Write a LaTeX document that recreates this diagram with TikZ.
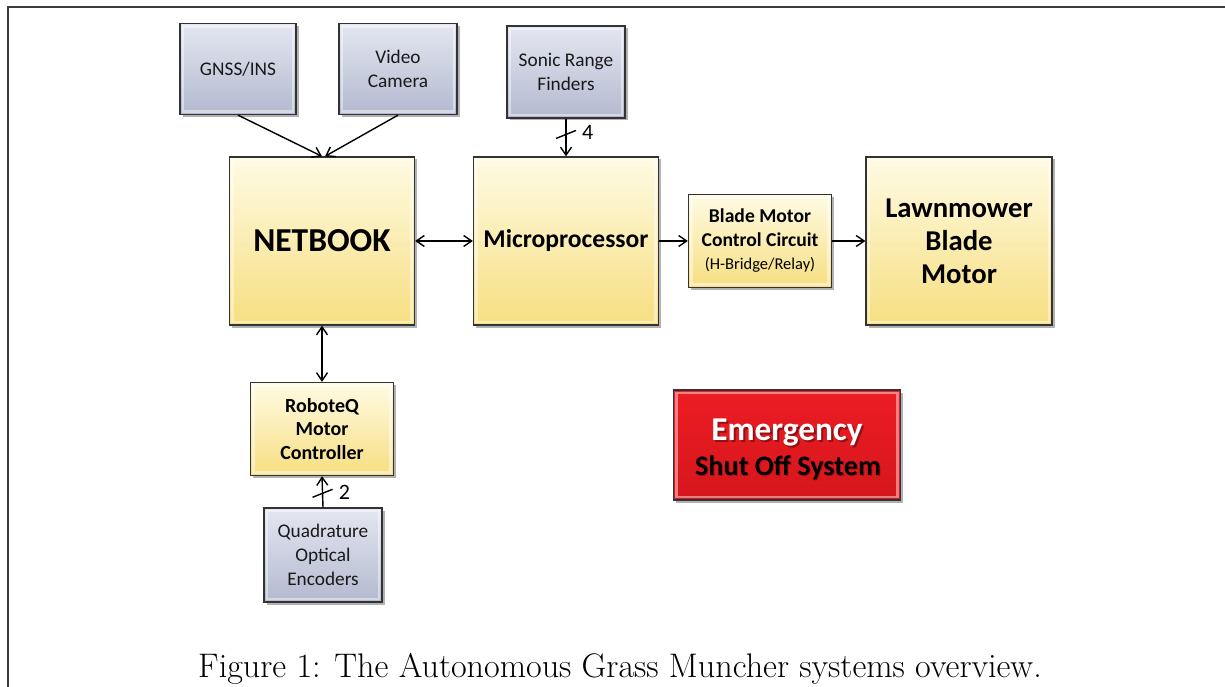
\documentclass[tikz,border=0pt]{standalone}
\usepackage{fontspec}
\newfontfamily\calfont{Carlito}
\usetikzlibrary{arrows.meta,shadows}
\definecolor{frameg}{HTML}{3C3C3C}
\definecolor{bluetop}{HTML}{E4E7F1}
\definecolor{bluebot}{HTML}{B3B9CF}
\definecolor{yeltop}{HTML}{FFFBE4}
\definecolor{yelbot}{HTML}{F6DE80}
\definecolor{redtop}{HTML}{EC1D23}
\definecolor{redbot}{HTML}{D5161C}
\tikzset{
  bevel/.style={path picture={\draw[white,opacity=.45,line width=2.5pt]
      ([shift={(3pt,-3pt)}]path picture bounding box.north west) rectangle
      ([shift={(-3pt,3pt)}]path picture bounding box.south east);}},
  box/.style={draw=black!80, line width=1.3pt, inner sep=0pt, align=center,
      bevel, drop shadow={shadow xshift=2.5pt, shadow yshift=-2.5pt, opacity=.3, fill=black}},
  bluebox/.style={box, top color=bluetop, bottom color=bluebot,
      font=\calfont\fontsize{19.3}{24}\selectfont, text=black!90},
  yelbox/.style={box, top color=yeltop, bottom color=yelbot, text=black},
  redbox/.style={box, top color=redtop, bottom color=redbot},
  arr/.style={line width=1.4pt, -{Straight Barb[length=8pt,width=11pt,line width=1.4pt]}},
  darr/.style={line width=1.4pt, {Straight Barb[length=8pt,width=11pt,line width=1.4pt]}-{Straight Barb[length=8pt,width=11pt,line width=1.4pt]}},
  slash/.style={line width=1.4pt},
  cnt/.style={font=\calfont\fontsize{22}{24}\selectfont, inner sep=0pt}
}
\begin{document}
\begin{tikzpicture}[x=1pt,y=-1pt]
\useasboundingbox (0,0) rectangle (1225,687);
\fill[white] (0,0) rectangle (1225,687);
% frame
\draw[frameg, line width=1.6pt] (8,687) -- (8,7) -- (1225,7);

% blue boxes
\node[bluebox, minimum width=116pt, minimum height=91pt] (gnss) at (238,69) {GNSS/INS};
\node[bluebox, minimum width=118pt, minimum height=91pt] (video) at (398,69) {Video\\Camera};
\node[bluebox, minimum width=118pt, minimum height=92pt] (sonic) at (566,72) {Sonic Range\\Finders};
\node[bluebox, minimum width=118pt, minimum height=94pt] (quad) at (323,555) {Quadrature\\Optical\\Encoders};

% yellow boxes
\node[yelbox, minimum width=185pt, minimum height=168pt,
      font=\calfont\bfseries\fontsize{33.5}{36}\selectfont] (net) at (322,241) {NETBOOK};
\node[yelbox, minimum width=185pt, minimum height=168pt,
      font=\calfont\bfseries\fontsize{25.6}{30}\selectfont] (micro) at (566,241) {Microprocessor};
\node[yelbox, minimum width=143pt, minimum height=93pt,
      font=\calfont\bfseries\fontsize{19.6}{23.5}\selectfont] (blade) at (760,241)
      {Blade Motor\\Control Circuit\\{\mdseries\fontsize{16.5}{22}\selectfont (H-Bridge/Relay)}};
\node[yelbox, minimum width=186pt, minimum height=168pt,
      font=\calfont\bfseries\fontsize{28.7}{33}\selectfont] (lawn) at (959,241)
      {Lawnmower\\Blade\\Motor};
\node[yelbox, minimum width=143pt, minimum height=93pt,
      font=\calfont\bfseries\fontsize{20}{23.5}\selectfont] (robo) at (322,429)
      {RoboteQ\\Motor\\Controller};

% emergency
\node[redbox, minimum width=227pt, minimum height=110pt] (emer) at (787,445) {};
\node[font=\calfont\bfseries\fontsize{33.3}{36}\selectfont, text=black, opacity=.35] at (789,435) {Emergency};
\node[font=\calfont\bfseries\fontsize{33.3}{36}\selectfont, text=white] (emt) at (787,433) {Emergency};
\node[font=\calfont\bfseries\fontsize{28.2}{32}\selectfont, text=black, opacity=.25] at (789,469) {Shut Off System};
\node[font=\calfont\bfseries\fontsize{28.2}{32}\selectfont, text=black] (est) at (788,468) {Shut Off System};

% connectors
\draw[arr] (gnss.south) -- (net.north);
\draw[arr] (video.south) -- ([xshift=3pt]net.north);
\draw[arr] (sonic.south) -- coordinate[pos=.42] (s4) (micro.north);
\draw[slash] ([shift={(-10pt,-4pt)}]s4) -- ([shift={(10pt,4pt)}]s4);
\node[cnt, anchor=west] (n4) at ([shift={(16pt,2pt)}]s4) {4};
\draw[darr] (net.east) -- (micro.west);
\draw[arr] (micro.east) -- (blade.west);
\draw[arr] (blade.east) -- (lawn.west);
\draw[darr] (net.south) -- (robo.north);
\draw[arr] (quad.north) -- coordinate[pos=.45] (q2) (robo.south);
\draw[slash] ([shift={(-10pt,-4pt)}]q2) -- ([shift={(10pt,4pt)}]q2);
\node[cnt, anchor=west] (n2) at ([shift={(16pt,1pt)}]q2) {2};

% caption
\node[font=\fontsize{34.1}{38}\selectfont] (cap) at (620,669)
  {Figure 1: The Autonomous Grass Muncher systems overview.};
\end{tikzpicture}
\end{document}
